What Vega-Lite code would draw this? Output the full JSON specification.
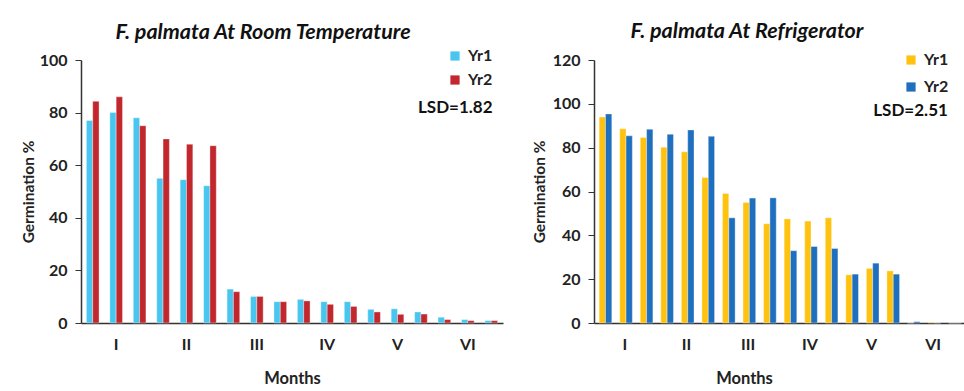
{
  "$schema": "https://vega.github.io/schema/vega-lite/v6.json",
  "background": "white",
  "padding": {"left": 21, "top": 20, "right": 0, "bottom": 0},
  "config": {
    "font": "Lato",
    "view": {"stroke": null},
    "axis": {"labelFont": "Lato", "labelFontWeight": "bold", "labelFontSize": 16, "labelColor": "#222", "titleFont": "Lato", "titleFontWeight": "bold", "titleFontSize": 15.5, "titleColor": "#222", "domainColor": "#333", "domainWidth": 1.5, "tickColor": "#333", "grid": false},
    "legend": {"labelFont": "Lato", "labelFontWeight": "bold", "labelFontSize": 16, "labelColor": "#222", "symbolType": "square", "symbolSize": 85, "symbolStrokeWidth": 0, "labelOffset": 5, "rowPadding": 8},
    "title": {"font": "Lato", "fontSize": 21.5, "fontWeight": "bold", "fontStyle": "italic", "color": "#111"}
  },
  "datasets": {
    "room": [
      {"g": 1, "year": "Yr1", "v": 77}, {"g": 1, "year": "Yr2", "v": 84.3},
      {"g": 2, "year": "Yr1", "v": 80}, {"g": 2, "year": "Yr2", "v": 86},
      {"g": 3, "year": "Yr1", "v": 78}, {"g": 3, "year": "Yr2", "v": 75},
      {"g": 4, "year": "Yr1", "v": 55}, {"g": 4, "year": "Yr2", "v": 70},
      {"g": 5, "year": "Yr1", "v": 54.5}, {"g": 5, "year": "Yr2", "v": 68},
      {"g": 6, "year": "Yr1", "v": 52.2}, {"g": 6, "year": "Yr2", "v": 67.4},
      {"g": 7, "year": "Yr1", "v": 12.9}, {"g": 7, "year": "Yr2", "v": 11.9},
      {"g": 8, "year": "Yr1", "v": 10.1}, {"g": 8, "year": "Yr2", "v": 10.1},
      {"g": 9, "year": "Yr1", "v": 8.1}, {"g": 9, "year": "Yr2", "v": 8.1},
      {"g": 10, "year": "Yr1", "v": 9}, {"g": 10, "year": "Yr2", "v": 8.4},
      {"g": 11, "year": "Yr1", "v": 8.1}, {"g": 11, "year": "Yr2", "v": 7.1},
      {"g": 12, "year": "Yr1", "v": 8.1}, {"g": 12, "year": "Yr2", "v": 6.3},
      {"g": 13, "year": "Yr1", "v": 5.2}, {"g": 13, "year": "Yr2", "v": 4.2},
      {"g": 14, "year": "Yr1", "v": 5.4}, {"g": 14, "year": "Yr2", "v": 3.3},
      {"g": 15, "year": "Yr1", "v": 4.2}, {"g": 15, "year": "Yr2", "v": 3.4},
      {"g": 16, "year": "Yr1", "v": 2.2}, {"g": 16, "year": "Yr2", "v": 1.3},
      {"g": 17, "year": "Yr1", "v": 1.3}, {"g": 17, "year": "Yr2", "v": 0.9},
      {"g": 18, "year": "Yr1", "v": 0.9}, {"g": 18, "year": "Yr2", "v": 0.9}
    ],
    "fridge": [
      {"g": 1, "year": "Yr1", "v": 94}, {"g": 1, "year": "Yr2", "v": 95.4},
      {"g": 2, "year": "Yr1", "v": 88.6}, {"g": 2, "year": "Yr2", "v": 85.4},
      {"g": 3, "year": "Yr1", "v": 84.6}, {"g": 3, "year": "Yr2", "v": 88.4},
      {"g": 4, "year": "Yr1", "v": 80.2}, {"g": 4, "year": "Yr2", "v": 86.1},
      {"g": 5, "year": "Yr1", "v": 78.1}, {"g": 5, "year": "Yr2", "v": 88.1},
      {"g": 6, "year": "Yr1", "v": 66.4}, {"g": 6, "year": "Yr2", "v": 85.2},
      {"g": 7, "year": "Yr1", "v": 59.1}, {"g": 7, "year": "Yr2", "v": 48},
      {"g": 8, "year": "Yr1", "v": 55}, {"g": 8, "year": "Yr2", "v": 57},
      {"g": 9, "year": "Yr1", "v": 45.3}, {"g": 9, "year": "Yr2", "v": 57.1},
      {"g": 10, "year": "Yr1", "v": 47.5}, {"g": 10, "year": "Yr2", "v": 33},
      {"g": 11, "year": "Yr1", "v": 46.5}, {"g": 11, "year": "Yr2", "v": 34.9},
      {"g": 12, "year": "Yr1", "v": 48}, {"g": 12, "year": "Yr2", "v": 34},
      {"g": 13, "year": "Yr1", "v": 22}, {"g": 13, "year": "Yr2", "v": 22.3},
      {"g": 14, "year": "Yr1", "v": 24.9}, {"g": 14, "year": "Yr2", "v": 27.3},
      {"g": 15, "year": "Yr1", "v": 23.8}, {"g": 15, "year": "Yr2", "v": 22.3},
      {"g": 16, "year": "Yr1", "v": 0}, {"g": 16, "year": "Yr2", "v": 0.6},
      {"g": 17, "year": "Yr1", "v": 0.3}, {"g": 17, "year": "Yr2", "v": 0},
      {"g": 18, "year": "Yr1", "v": 0}, {"g": 18, "year": "Yr2", "v": 0}
    ],
    "lsd1": [{"g": 18, "v": 81.7, "label": "LSD=1.82"}],
    "lsd2": [{"g": 18, "v": 96.8, "label": "LSD=2.51"}]
  },
  "hconcat": [
    {
      "width": 422,
      "height": 263,
      "title": {"text": "F. palmata At Room Temperature", "dx": -29, "offset": 5},
      "layer": [
        {
          "data": {"name": "room"},
          "mark": {"type": "bar", "stroke": "#ffffff", "strokeWidth": 0.6, "strokeOpacity": 0.6},
          "encoding": {
            "x": {"field": "g", "type": "ordinal", "scale": {"paddingInner": 0.46, "paddingOuter": 0.23},
                  "axis": {"title": "Months", "ticks": false, "labelAngle": 0, "labelPadding": 13, "titlePadding": 18, "titleFontSize": 16.5,
                           "labelExpr": "datum.value == 2 ? 'I' : datum.value == 5 ? 'II' : datum.value == 8 ? 'III' : datum.value == 11 ? 'IV' : datum.value == 14 ? 'V' : datum.value == 17 ? 'VI' : ''"}},
            "xOffset": {"field": "year", "type": "nominal", "scale": {"paddingInner": 0}},
            "y": {"field": "v", "type": "quantitative", "scale": {"domain": [0, 100]},
                  "axis": {"title": "Germination %", "values": [0, 20, 40, 60, 80, 100], "tickSize": 6, "labelPadding": 8, "titlePadding": 3}},
            "color": {"field": "year", "type": "nominal", "scale": {"domain": ["Yr1", "Yr2"], "range": ["#48C6F0", "#C1272D"]},
                      "legend": {"title": null, "orient": "none", "legendX": 366, "legendY": -12}}
          }
        },
        {
          "data": {"name": "lsd1"},
          "mark": {"type": "text", "align": "right", "baseline": "middle", "fontSize": 17, "fontWeight": "bold", "font": "Lato", "color": "#111", "dx": -5},
          "encoding": {
            "x": {"field": "g", "type": "ordinal", "bandPosition": 1},
            "y": {"field": "v", "type": "quantitative"},
            "text": {"field": "label"}
          }
        }
      ]
    },
    {
      "width": 370,
      "height": 263,
      "title": {"text": "F. palmata At Refrigerator", "dx": -32, "offset": 10},
      "layer": [
        {
          "data": {"name": "fridge"},
          "mark": {"type": "bar", "stroke": "#ffffff", "strokeWidth": 0.6, "strokeOpacity": 0.6},
          "encoding": {
            "x": {"field": "g", "type": "ordinal", "scale": {"paddingInner": 0.5, "paddingOuter": 0.25},
                  "axis": {"title": "Months", "ticks": false, "labelAngle": 0, "labelPadding": 13, "titlePadding": 18, "titleFontSize": 16.5, "titleX": 150,
                           "labelExpr": "datum.value == 2 ? 'I' : datum.value == 5 ? 'II' : datum.value == 8 ? 'III' : datum.value == 11 ? 'IV' : datum.value == 14 ? 'V' : datum.value == 17 ? 'VI' : ''"}},
            "xOffset": {"field": "year", "type": "nominal", "scale": {"paddingInner": 0}},
            "y": {"field": "v", "type": "quantitative", "scale": {"domain": [0, 120]},
                  "axis": {"title": "Germination %", "values": [0, 20, 40, 60, 80, 100, 120], "tickSize": 6, "labelPadding": 8, "titlePadding": 5}},
            "color": {"field": "year", "type": "nominal", "scale": {"domain": ["Yr1", "Yr2"], "range": ["#FFC20E", "#1F6FBF"]},
                      "legend": {"title": null, "orient": "none", "legendX": 309, "legendY": -8, "rowPadding": 11}}
          }
        },
        {
          "data": {"name": "lsd2"},
          "mark": {"type": "text", "align": "right", "baseline": "middle", "fontSize": 17, "fontWeight": "bold", "font": "Lato", "color": "#111", "dx": -11},
          "encoding": {
            "x": {"field": "g", "type": "ordinal", "bandPosition": 1},
            "y": {"field": "v", "type": "quantitative"},
            "text": {"field": "label"}
          }
        }
      ]
    }
  ],
  "spacing": 29,
  "resolve": {"scale": {"color": "independent", "x": "independent", "y": "independent"}, "legend": {"color": "independent"}}
}
